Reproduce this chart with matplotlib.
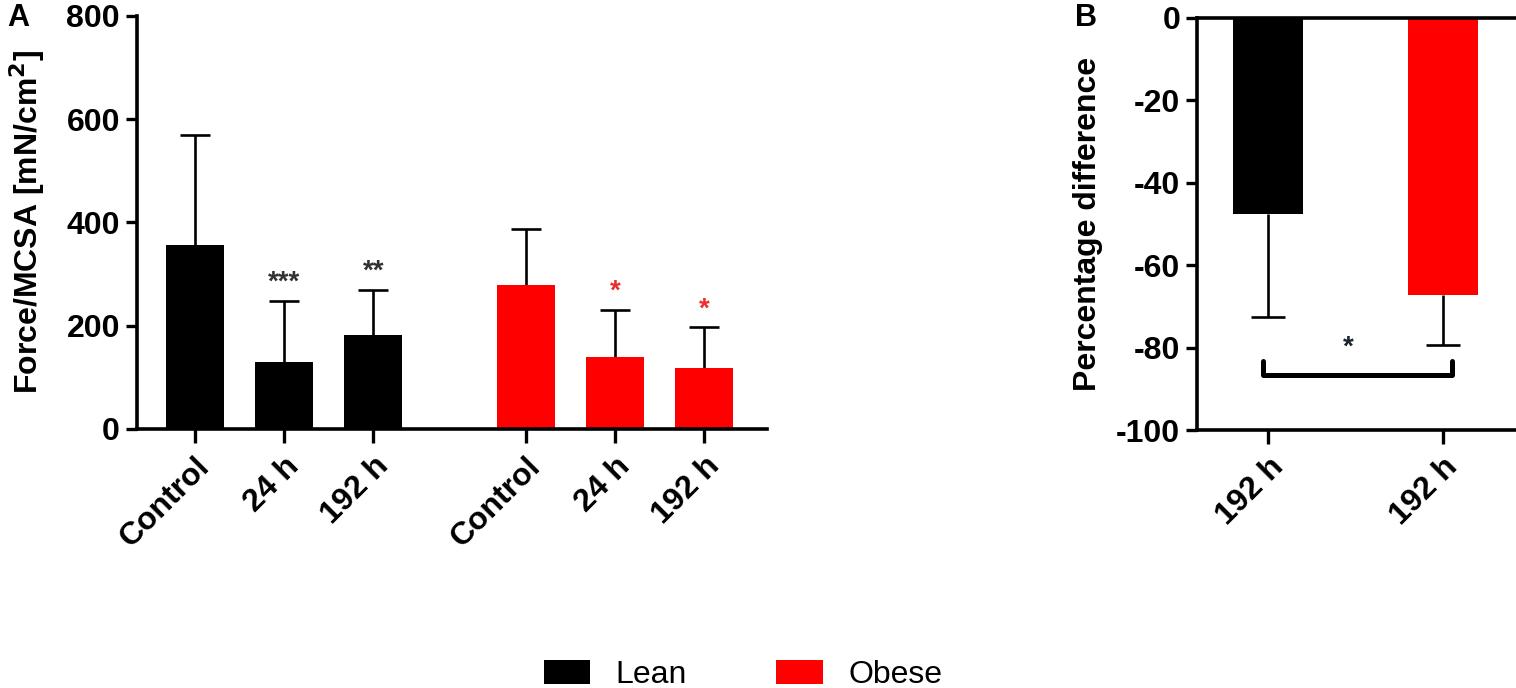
import numpy as np
import matplotlib
matplotlib.use("Agg")
import matplotlib.pyplot as plt
from matplotlib.patches import Patch

plt.rcParams['font.family'] = ['Liberation Sans', 'DejaVu Sans']
plt.rcParams['axes.unicode_minus'] = False

# panel A: force per muscle cross sectional area
groups_a = ["Control", "24 h", "192 h", "Control", "24 h", "192 h"]
lean_mean = [356, 130, 181]
lean_sd = [214, 118, 88]
obese_mean = [279, 139, 118]
obese_sd = [108, 91, 79]
stars_a = ["", "***", "**", "", "*", "*"]

# panel B: percentage difference at 192 h
groups_b = ["192 h", "192 h"]
diff_mean = [-47.6, -67.2]
diff_sd = [24.9, 12.2]

BLACK = "#000000"
RED = "#ff0000"

fig = plt.figure(figsize=(15.16, 6.88), dpi=100)
ax_a = fig.add_axes([0.0902, 0.3765, 0.4158, 0.6005])
ax_b = fig.add_axes([0.7896, 0.375, 0.2104, 0.599])

def style_axis(ax):
    for side in ("left", "bottom"):
        ax.spines[side].set_linewidth(2.6)
    ax.spines["right"].set_visible(False)
    ax.tick_params(axis="both", width=2.4, length=8, labelsize=23, pad=4)
    for lab in ax.get_yticklabels() + ax.get_xticklabels():
        lab.set_fontweight("bold")

# ---- panel A ----
pos_a = np.array([0, 1, 2, 3.71, 4.71, 5.71])
means_a = lean_mean + obese_mean
sds_a = lean_sd + obese_sd
colors_a = [BLACK] * 3 + [RED] * 3

ax_a.bar(pos_a, means_a, width=0.65, color=colors_a, zorder=2)
eb = ax_a.errorbar(pos_a, means_a, yerr=[np.zeros(6), sds_a], fmt="none",
                   ecolor="black", elinewidth=1.9, capsize=11, capthick=1.9, zorder=1)
eb[1][0].set_visible(False)  # no cap at the bar top
for x, m, s, st, c in zip(pos_a, means_a, sds_a, stars_a, colors_a):
    if st:
        col = "#333333" if c == BLACK else "#e83030"
        ax_a.text(x, m + s + 35, st, ha="center", va="center",
                  fontsize=20, fontweight="bold", color=col)

ax_a.set_xlim(-0.654, 6.415)
ax_a.set_ylim(0, 800)
ax_a.set_yticks([0, 200, 400, 600, 800])
ax_a.set_xticks(pos_a)
ax_a.set_xticklabels(groups_a, rotation=45, ha="right", rotation_mode="anchor")
ax_a.spines["top"].set_visible(False)
style_axis(ax_a)
ax_a.tick_params(axis="x", length=10, pad=6)
ax_a.set_ylabel("Force/MCSA [mN/cm$^\\mathbf{2}$]", fontsize=23, fontweight="bold")
ax_a.yaxis.set_label_coords(-0.143, 0.5)

# ---- panel B ----
pos_b = np.array([0, 1])
ax_b.bar(pos_b, diff_mean, width=0.4, color=[BLACK, RED], zorder=2)
eb = ax_b.errorbar(pos_b, diff_mean, yerr=[diff_sd, np.zeros(2)], fmt="none",
                   ecolor="black", elinewidth=1.9, capsize=12.5, capthick=1.9, zorder=1)
eb[1][1].set_visible(False)

# significance bracket
ax_b.plot([-0.03, -0.03, 1.05, 1.05], [-83.2, -86.7, -86.7, -83.2],
          color="black", lw=3.6, solid_joinstyle="round", solid_capstyle="round")
ax_b.text(0.46, -80, "*", ha="center", va="center", fontsize=20,
          fontweight="bold", color="#1c2430")

ax_b.set_xlim(-0.406, 1.417)
ax_b.set_ylim(-100, 0)
ax_b.set_yticks([0, -20, -40, -60, -80, -100])
ax_b.set_xticks(pos_b)
ax_b.set_xticklabels(groups_b, rotation=45, ha="right", rotation_mode="anchor")
ax_b.spines["top"].set_linewidth(2.6)
style_axis(ax_b)
ax_b.tick_params(axis="x", length=10, pad=6)
ax_b.set_ylabel("Percentage difference", fontsize=23, fontweight="bold")
ax_b.yaxis.set_label_coords(-0.295, 0.5)

# panel letters
fig.text(0.005, 0.995, "A", fontsize=22, fontweight="bold", va="top")
fig.text(0.709, 0.995, "B", fontsize=22, fontweight="bold", va="top")

handles = [Patch(facecolor=BLACK, label="Lean"), Patch(facecolor=RED, label="Obese")]
fig.legend(handles=handles, loc="lower center", bbox_to_anchor=(0.49, -0.045),
           ncol=2, frameon=False, fontsize=23, handlelength=1.45,
           handleheight=0.8, handletextpad=0.8, columnspacing=2.8)

fig.savefig("out.png", dpi=100)
